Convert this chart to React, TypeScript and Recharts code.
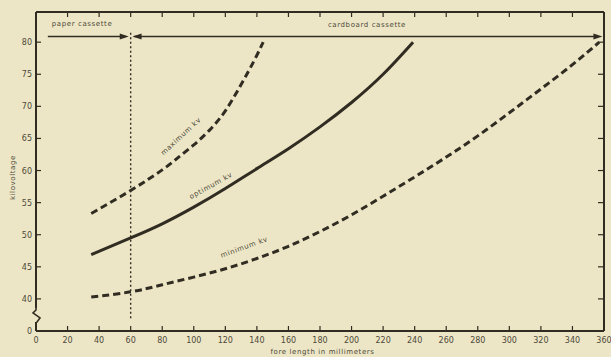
import React from 'react';
import { ComposedChart, Line, XAxis, YAxis, ReferenceLine, ReferenceDot } from 'recharts';

const INK = '#312c22';
const TXT = '#4e4939';
const BG = '#ece6c6';
const FONT = 'DejaVu Sans';

const xTicks = [0, 20, 40, 60, 80, 100, 120, 140, 160, 180, 200, 220, 240, 260, 280, 300, 320, 340, 360];
const yTicks = [35, 37.5, 40, 45, 50, 55, 60, 65, 70, 75, 80];
const yTickLabels: Record<string, string> = { '35': '0', '37.5': '', '40': '40', '45': '45', '50': '50', '55': '55', '60': '60', '65': '65', '70': '70', '75': '75', '80': '80' };

const maxX = [35, 60, 80, 90, 100, 110, 120, 130, 138, 144];
const maxKv = [53.3, 56.9, 60.1, 62.0, 64.0, 66.3, 69.3, 73.4, 77.0, 80.0];

const optX = [35, 60, 80, 100, 120, 140, 160, 180, 200, 220, 239];
const optKv = [46.9, 49.5, 51.7, 54.3, 57.2, 60.3, 63.4, 66.8, 70.6, 75.0, 80.0];

const minX = [35, 60, 80, 100, 120, 140, 160, 180, 200, 220, 240, 260, 280, 300, 320, 340, 357];
const minKv = [40.3, 41.1, 42.2, 43.4, 44.7, 46.3, 48.2, 50.5, 53.1, 56.0, 59.0, 62.1, 65.4, 69.0, 72.7, 76.5, 80.0];

const boundaryX = 60;
const arrowY = 80.9;

const curveLabels = [
  { text: 'maximum kv', x: 92, y: 65.3, angle: -43 },
  { text: 'optimum kv', x: 111, y: 57.6, angle: -29 },
  { text: 'minimum kv', x: 132, y: 48, angle: -20 },
];

const toData = (xs: number[], ys: number[]) => xs.map((x, i) => ({ x, y: ys[i] }));
const maxData = toData(maxX, maxKv);
const optData = toData(optX, optKv);
const minData = toData(minX, minKv);

const BottomTick = (p: any) => {
  const { x, y, payload } = p;
  return (
    <g>
      <line x1={x} y1={y} x2={x} y2={y - 5} stroke={INK} strokeWidth={1.2} />
      <text x={x} y={y + 12} textAnchor="middle" fontSize={8} fontFamily={FONT} fill={TXT}>{payload.value}</text>
    </g>
  );
};

const TopTick = (p: any) => {
  const { x, y } = p;
  return <line x1={x} y1={y + 1} x2={x} y2={y + 5} stroke={INK} strokeWidth={1.2} />;
};

const LeftTick = (p: any) => {
  const { x, y, payload } = p;
  if (payload.value === 37.5) {
    return (
      <g>
        <rect x={x - 3} y={y - 7} width={6} height={14} fill={BG} />
        <polyline points={`${x},${y - 7} ${x},${y - 5} ${x - 3},${y - 2} ${x + 4},${y + 3} ${x + 1},${y + 7} ${x},${y + 8}`} fill="none" stroke={INK} strokeWidth={1.6} />
      </g>
    );
  }
  return (
    <g>
      <line x1={x} y1={y} x2={x + 5} y2={y} stroke={INK} strokeWidth={1.2} />
      <text x={x - 4} y={y + 3} textAnchor="end" fontSize={8} fontFamily={FONT} fill={TXT}>{yTickLabels[String(payload.value)]}</text>
    </g>
  );
};

const RightTick = (p: any) => {
  const { x, y } = p;
  return <line x1={x - 1} y1={y} x2={x - 6} y2={y} stroke={INK} strokeWidth={1.2} />;
};

const arrowHead = (dir: 1 | -1) => (p: any) => {
  const { cx, cy } = p;
  return <path d={`M${cx},${cy} L${cx - dir * 9},${cy - 3} L${cx - dir * 9},${cy + 3} Z`} fill={INK} />;
};

const textShape = (text: string, angle: number, size: number, anchor: string = 'middle') => (p: any) => {
  const { cx, cy } = p;
  return (
    <text x={cx} y={cy} textAnchor={anchor} dominantBaseline="middle" fontSize={size} fontFamily={FONT} fill={TXT} letterSpacing={0.6} transform={`rotate(${angle} ${cx} ${cy})`}>{text}</text>
  );
};

export default function App() {
  return (
    <div style={{ position: 'fixed', left: 0, top: 0, width: 611, height: 357, background: BG }}>
      <ComposedChart width={611} height={357} margin={{ top: 11, right: 6, bottom: 0, left: 0 }}>
        <XAxis dataKey="x" type="number" domain={[0, 360]} ticks={xTicks} interval={0} height={26}
          tickSize={0} tickMargin={0} tickLine={false} tick={BottomTick}
          axisLine={{ stroke: INK, strokeWidth: 2 }} allowDataOverflow />
        <XAxis xAxisId="top" dataKey="x" orientation="top" type="number" domain={[0, 360]} ticks={xTicks} interval={0} height={1}
          tickSize={0} tickMargin={0} tickLine={false} tick={TopTick}
          axisLine={{ stroke: INK, strokeWidth: 2 }} allowDataOverflow />
        <YAxis type="number" domain={[35, 84.7]} ticks={yTicks} interval={0} width={36}
          tickSize={0} tickMargin={0} tickLine={false} tick={LeftTick}
          axisLine={{ stroke: INK, strokeWidth: 2 }} allowDataOverflow />
        <YAxis yAxisId="right" orientation="right" type="number" domain={[35, 84.7]} ticks={yTicks.filter(v => v !== 37.5 && v !== 35)} interval={0} width={1}
          tickSize={0} tickMargin={0} tickLine={false} tick={RightTick}
          axisLine={{ stroke: INK, strokeWidth: 2 }} allowDataOverflow />

        <Line xAxisId="top" yAxisId="right" data={minData} dataKey="y" stroke="none" dot={false} activeDot={false} isAnimationActive={false} />

        <ReferenceLine segment={[{ x: boundaryX, y: 37 }, { x: boundaryX, y: 81.6 }]} stroke={INK} strokeWidth={1.4} strokeDasharray="2 2.5" ifOverflow="visible" />

        <ReferenceLine segment={[{ x: 7.5, y: arrowY }, { x: 57, y: arrowY }]} stroke={INK} strokeWidth={1.5} ifOverflow="visible" />
        <ReferenceLine segment={[{ x: 62, y: arrowY }, { x: 356, y: arrowY }]} stroke={INK} strokeWidth={1.5} ifOverflow="visible" />
        <ReferenceDot x={58.8} y={arrowY} r={0} shape={arrowHead(1)} ifOverflow="visible" />
        <ReferenceDot x={61.2} y={arrowY} r={0} shape={arrowHead(-1)} ifOverflow="visible" />
        <ReferenceDot x={359} y={arrowY} r={0} shape={arrowHead(1)} ifOverflow="visible" />

        <ReferenceDot x={10} y={82.8} r={0} shape={textShape('paper cassette', 0, 7, 'start')} ifOverflow="visible" />
        <ReferenceDot x={185} y={82.7} r={0} shape={textShape('cardboard cassette', 0, 7, 'start')} ifOverflow="visible" />

        <ReferenceDot x={-14.6} y={58.9} r={0} shape={textShape('kilovoltage', -90, 7)} ifOverflow="visible" />
        <ReferenceDot x={181.6} y={31.7} r={0} shape={textShape('fore length in millimeters', 0, 7)} ifOverflow="visible" />

        <Line data={maxData} dataKey="y" type="natural" stroke={INK} strokeWidth={3} strokeDasharray="7 4" dot={false} isAnimationActive={false} />
        <Line data={optData} dataKey="y" type="natural" stroke={INK} strokeWidth={3} dot={false} isAnimationActive={false} />
        <Line data={minData} dataKey="y" type="natural" stroke={INK} strokeWidth={3} strokeDasharray="7 4" dot={false} isAnimationActive={false} />

        {curveLabels.map(l => (
          <ReferenceDot key={l.text} x={l.x} y={l.y} r={0} shape={textShape(l.text, l.angle, 7)} ifOverflow="visible" />
        ))}
      </ComposedChart>
    </div>
  );
}
